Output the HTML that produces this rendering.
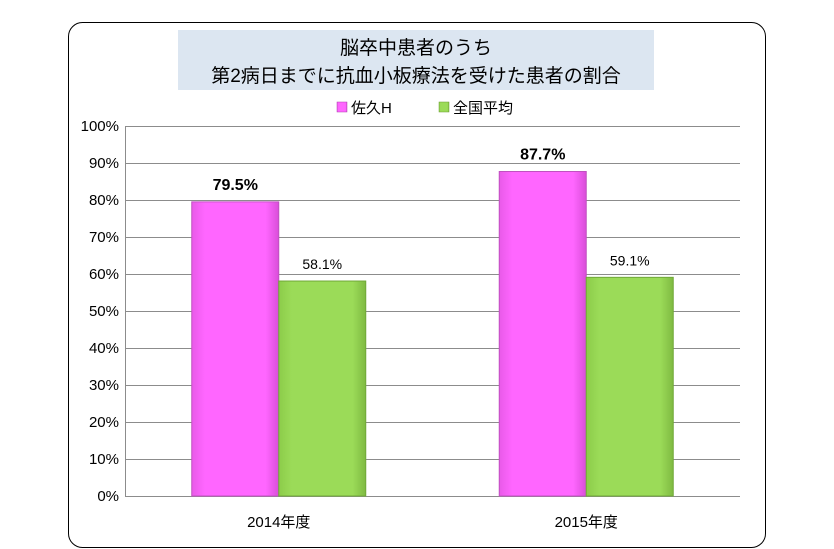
<!DOCTYPE html>
<html><head><meta charset="utf-8"><style>
body{margin:0;background:#fff;width:834px;height:549px;overflow:hidden}
svg{display:block;font-family:"Liberation Sans","Noto Sans CJK JP",sans-serif}
</style></head><body>
<svg id="chart" width="834" height="549">
<defs>
<linearGradient id="gp" x1="0" x2="1"><stop offset="0" stop-color="#e85ae8"/><stop offset="0.15" stop-color="#ff66ff"/><stop offset="0.85" stop-color="#ff66ff"/><stop offset="1" stop-color="#d94ed9"/></linearGradient>
<linearGradient id="gg" x1="0" x2="1"><stop offset="0" stop-color="#8ccc4a"/><stop offset="0.15" stop-color="#9bdb58"/><stop offset="0.85" stop-color="#9bdb58"/><stop offset="1" stop-color="#7fba42"/></linearGradient>
</defs>
<rect x="68.5" y="22.5" width="697" height="525" rx="14" fill="#fff" stroke="#000" stroke-width="1"/>
<rect x="178" y="30" width="476" height="60" fill="#dce6f1"/>
<text x="416" y="54" text-anchor="middle" font-size="19" fill="#000">脳卒中患者のうち</text>
<text x="416" y="82" text-anchor="middle" font-size="19" fill="#000">第2病日までに抗血小板療法を受けた患者の割合</text>
<g>
<rect x="337" y="102" width="10" height="10" fill="url(#gp)" stroke="#b040b0" stroke-width="0.5"/>
<text x="351" y="113" font-size="15">佐久H</text>
<rect x="439" y="102" width="10" height="10" fill="url(#gg)" stroke="#6a9a30" stroke-width="0.5"/>
<text x="453" y="113" font-size="15">全国平均</text>
</g>
<g id="grid"></g><g id="bars"></g><g id="labels"></g>
</svg>
<script>
const categories=["2014年度","2015年度"];
const sakuValues=[79.5,87.7];
const nationalValues=[58.1,59.1];
const tickValues=[0,10,20,30,40,50,60,70,80,90,100];
const X0=125,X1=740,Y0=496,Y1=126;
const ns="http://www.w3.org/2000/svg";
function y(v){return Y0-(v/100)*(Y0-Y1);}
const cw=(X1-X0)/categories.length;
function xc(i){return X0+cw*(i+0.5);}
function mk(tag,attrs,parent,txt){const e=document.createElementNS(ns,tag);for(const k in attrs)e.setAttribute(k,attrs[k]);if(txt!==undefined)e.textContent=txt;parent.appendChild(e);return e;}
const grid=document.getElementById('grid'),bars=document.getElementById('bars'),labels=document.getElementById('labels');
tickValues.forEach(t=>{
 const l=mk('line',{x1:X0,x2:X1,y1:y(t)+0.5,y2:y(t)+0.5,stroke:'#8c8c8c','stroke-width':1},grid);
 
 
 const tx=mk('text',{x:X0-6,y:y(t)+5,'text-anchor':'end','font-size':15},grid,t+'%');
 
 
});
const ax=mk('line',{x1:X0+0.5,x2:X0+0.5,y1:Y1,y2:Y0,stroke:'#8c8c8c'},grid);


const bw=87;
categories.forEach((c,i)=>{
 const cx=xc(i);
 [[sakuValues[i],'url(#gp)','#c050c0',-bw,'saku',true],[nationalValues[i],'url(#gg)','#70a838',0,'national',false]].forEach(s=>{
  const v=s[0],bx=cx+s[3];
  const r=mk('rect',{x:bx,y:y(v),width:bw,height:Y0-y(v),fill:s[1],stroke:s[2],'stroke-width':1},bars);
  
  
  const t=mk('text',{x:bx+bw/2,y:y(v)-12,'text-anchor':'middle','font-size':s[5]?16:14,'font-weight':s[5]?'bold':'normal'},labels,v.toFixed(1)+'%');
  
  
 });
 const cl=mk('text',{x:cx,y:527,'text-anchor':'middle','font-size':15},labels,c);
 
 
});
</script>
</body></html>
